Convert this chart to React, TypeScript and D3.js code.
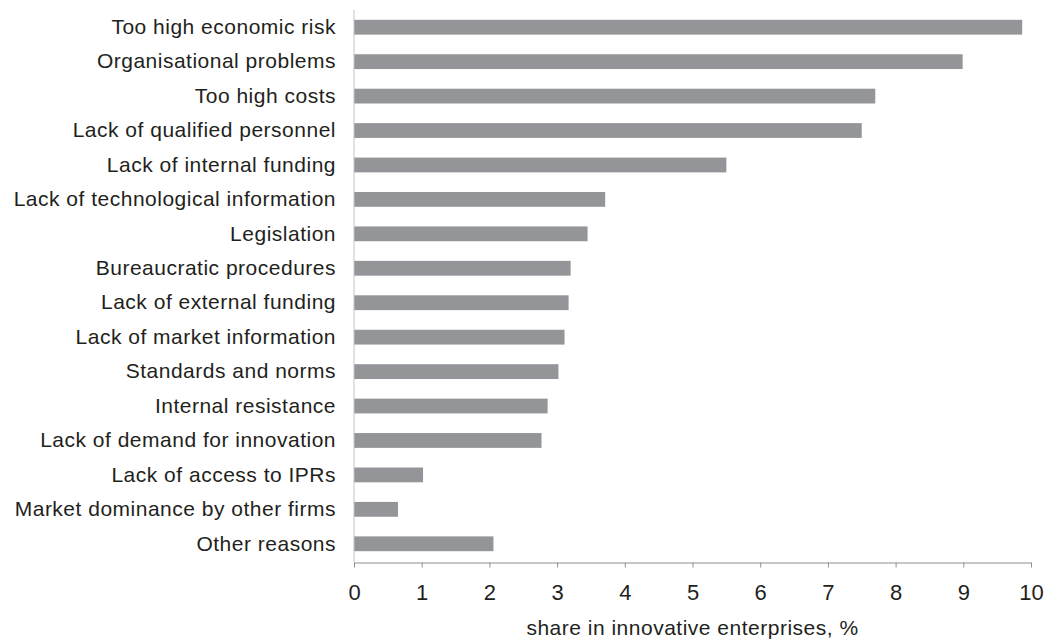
import { useEffect, useRef } from 'react';
import * as d3 from 'd3';

const categories = [
  'Too high economic risk',
  'Organisational problems',
  'Too high costs',
  'Lack of qualified personnel',
  'Lack of internal funding',
  'Lack of technological information',
  'Legislation',
  'Bureaucratic procedures',
  'Lack of external funding',
  'Lack of market information',
  'Standards and norms',
  'Internal resistance',
  'Lack of demand for innovation',
  'Lack of access to IPRs',
  'Market dominance by other firms',
  'Other reasons',
];

const shares = [9.87, 8.99, 7.7, 7.5, 5.5, 3.71, 3.45, 3.2, 3.17, 3.11, 3.02, 2.86, 2.77, 1.02, 0.65, 2.06];

const xTicks = [0, 1, 2, 3, 4, 5, 6, 7, 8, 9, 10];

const axisTitle = 'share in innovative enterprises, %';

function App() {
  const svgRef = useRef<SVGSVGElement | null>(null);
  const width = 1045;
  const height = 640;
  const margin = { top: 10, right: 14, bottom: 79, left: 354 };
  const font = '"Liberation Sans", Arial, sans-serif';

  useEffect(() => {
    const svg = d3.select(svgRef.current);
    svg.selectAll('*').remove();

    const xScale = d3
      .scaleLinear()
      .domain([0, 10])
      .range([margin.left, width - margin.right]);

    const yScale = d3
      .scaleBand<string>()
      .domain(categories)
      .range([margin.top, height - margin.bottom])
      .paddingInner(0.57)
      .paddingOuter(0.285);

    const data = categories.map((c, i) => ({ name: c, value: shares[i] }));

    // bars
    svg
      .append('g')
      .selectAll('rect')
      .data(data)
      .join('rect')
      .attr('x', xScale(0))
      .attr('y', (d) => yScale(d.name) as number)
      .attr('width', (d) => xScale(d.value) - xScale(0))
      .attr('height', yScale.bandwidth())
      .attr('fill', '#939598');

    // category axis (left)
    const yAxis = svg
      .append('g')
      .attr('transform', `translate(${xScale(0)},0)`)
      .call(d3.axisLeft(yScale).tickSize(0).tickPadding(18));
    yAxis.select('.domain').attr('stroke', '#c4c4c4').attr('d', `M0,${margin.top}V${height - margin.bottom + 1}`);
    yAxis
      .selectAll('text')
      .attr('font-family', font)
      .attr('font-size', 21)
      .attr('letter-spacing', '0.5px')
      .attr('fill', '#231f20');

    // value axis (bottom)
    const xAxis = svg
      .append('g')
      .attr('transform', `translate(0,${height - margin.bottom + 1.5})`)
      .call(
        d3
          .axisBottom(xScale)
          .tickValues(xTicks)
          .tickSize(5)
          .tickSizeOuter(0)
          .tickPadding(17)
          .tickFormat(d3.format('d')),
      );
    xAxis.select('.domain').attr('stroke', '#8f8f8f');
    xAxis.selectAll('line').attr('stroke', '#8f8f8f');
    xAxis
      .selectAll('text')
      .attr('font-family', font)
      .attr('font-size', 22)
      .attr('fill', '#231f20');

    svg
      .append('text')
      .attr('x', (xScale(0) + xScale(10)) / 2)
      .attr('y', 635)
      .attr('text-anchor', 'middle')
      .attr('font-family', font)
      .attr('font-size', 21)
      .attr('letter-spacing', '0.5px')
      .attr('fill', '#231f20')
      .text(axisTitle);
  }, []);

  return (
    <svg
      ref={svgRef}
      width={width}
      height={height}
      viewBox={`0 0 ${width} ${height}`}
      style={{ position: 'absolute', left: 0, top: 0, background: '#fff' }}
    />
  );
}

export default App;
